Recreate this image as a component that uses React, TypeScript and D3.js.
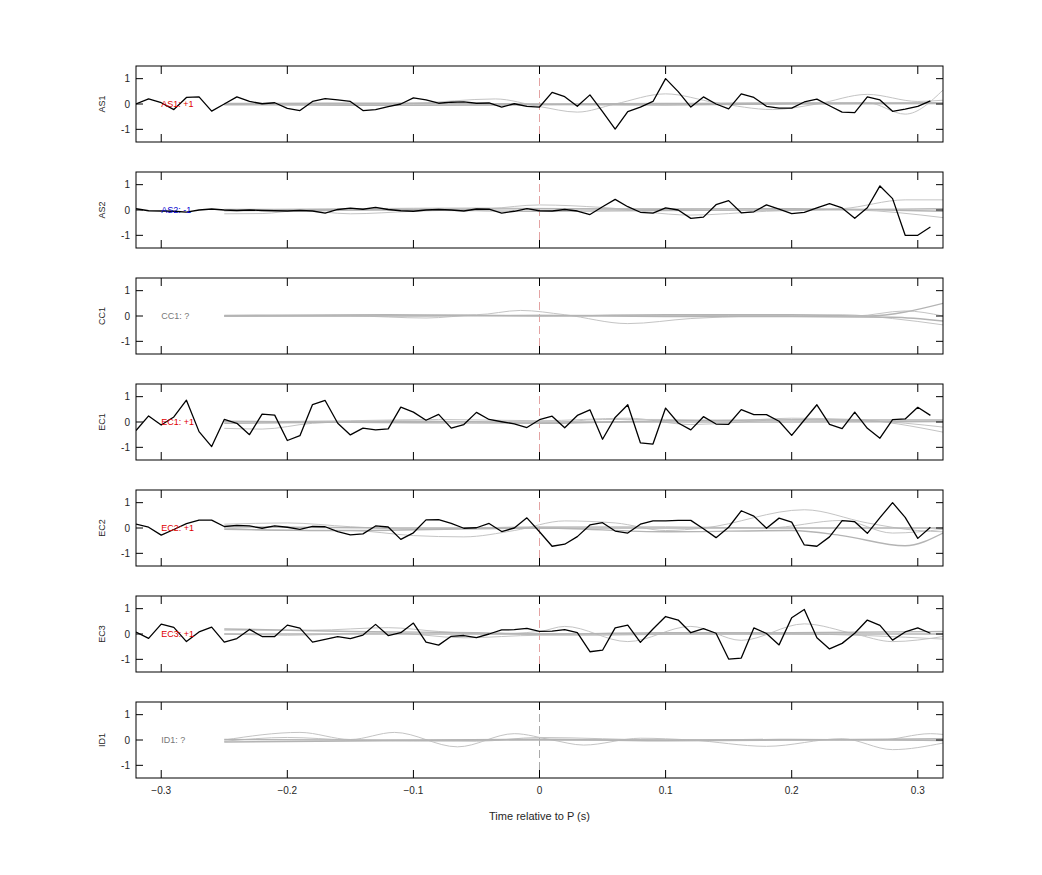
import React, { useEffect, useRef } from 'react';
import * as d3 from 'd3';

// sample times of the black traces (s)
const sampleTimes = [
  -0.32, -0.31, -0.3, -0.29, -0.28, -0.27, -0.26, -0.25, -0.24, -0.23, -0.22, -0.21, -0.2, -0.19, -0.18, -0.17,
  -0.16, -0.15, -0.14, -0.13, -0.12, -0.11, -0.1, -0.09, -0.08, -0.07, -0.06, -0.05, -0.04, -0.03, -0.02, -0.01,
  0, 0.01, 0.02, 0.03, 0.04, 0.05, 0.06, 0.07, 0.08, 0.09, 0.1, 0.11, 0.12, 0.13, 0.14, 0.15,
  0.16, 0.17, 0.18, 0.19, 0.2, 0.21, 0.22, 0.23, 0.24, 0.25, 0.26, 0.27, 0.28, 0.29, 0.3, 0.31,
];

const as1 = [
  0, 0.2, 0.05, -0.22, 0.26, 0.28, -0.28, 0, 0.28, 0.1, 0.01, 0.05, -0.17, -0.26, 0.1, 0.21,
  0.16, 0.1, -0.26, -0.22, -0.1, 0, 0.24, 0.16, 0.03, 0.07, 0.08, 0.03, 0.04, -0.12, 0.01, -0.09,
  -0.12, 0.46, 0.29, -0.09, 0.36, -0.3, -0.99, -0.3, -0.12, 0.1, 1.0, 0.49, -0.12, 0.28, 0, -0.19,
  0.4, 0.26, -0.09, -0.16, -0.16, 0.08, 0.19, -0.07, -0.32, -0.34, 0.28, 0.16, -0.29, -0.2, -0.09, 0.12,
];
const as2 = [
  0.05, -0.03, -0.04, -0.05, -0.08, 0, 0.04, 0, -0.02, 0, -0.02, -0.03, -0.04, -0.02, -0.04, -0.12,
  0.02, 0.07, 0.03, 0.1, 0.02, -0.03, -0.05, 0, 0.02, 0, -0.04, 0.04, 0.03, -0.12, -0.05, 0.05,
  -0.03, -0.04, 0.02, -0.04, -0.18, 0.13, 0.42, 0.13, -0.09, -0.12, 0.08, 0, -0.33, -0.28, 0.21, 0.37,
  -0.11, -0.07, 0.2, 0.03, -0.14, -0.09, 0.08, 0.25, 0.08, -0.33, 0.09, 0.95, 0.45, -1.0, -1.0, -0.67,
];
const ec1 = [
  -0.34, 0.24, -0.12, 0.2, 0.86, -0.38, -0.97, 0.1, -0.05, -0.5, 0.31, 0.27, -0.73, -0.54, 0.69, 0.85,
  -0.05, -0.51, -0.24, -0.31, -0.27, 0.59, 0.39, 0.07, 0.3, -0.24, -0.1, 0.38, 0.1, 0.01, -0.07, -0.22,
  0.09, 0.23, -0.23, 0.26, 0.48, -0.68, 0.18, 0.68, -0.82, -0.87, 0.55, -0.04, -0.31, 0.21, -0.08, -0.09,
  0.49, 0.29, 0.29, 0.03, -0.53, 0.08, 0.68, -0.09, -0.26, 0.39, -0.25, -0.64, 0.09, 0.12, 0.58, 0.26,
];
const ec2 = [
  0.15, 0.03, -0.28, -0.06, 0.17, 0.31, 0.31, 0.06, 0.1, 0.08, -0.01, 0.08, 0.03, -0.05, 0.06, 0.05,
  -0.14, -0.27, -0.23, 0.08, 0.04, -0.45, -0.19, 0.32, 0.33, 0.18, -0.01, 0.01, 0.18, -0.14, 0, 0.4,
  -0.15, -0.72, -0.64, -0.34, 0.12, 0.21, -0.12, -0.2, 0.15, 0.28, 0.28, 0.3, 0.3, -0.03, -0.38, 0.03,
  0.68, 0.47, -0.01, 0.39, 0.23, -0.67, -0.72, -0.35, 0.29, 0.25, -0.21, 0.41, 1.0, 0.42, -0.41, 0.03,
];
const ec3 = [
  0.08, -0.17, 0.39, 0.26, -0.3, 0.08, 0.27, -0.32, -0.18, 0.18, -0.1, -0.1, 0.35, 0.23, -0.32, -0.21,
  -0.1, -0.18, -0.04, 0.38, -0.06, 0.05, 0.43, -0.32, -0.44, -0.09, -0.06, -0.14, 0, 0.16, 0.17, 0.22,
  0.1, 0.11, 0.17, 0.05, -0.7, -0.64, 0.24, 0.35, -0.33, 0.2, 0.69, 0.55, 0.05, 0.21, 0.03, -0.99,
  -0.95, 0.24, 0.02, -0.43, 0.64, 0.97, -0.15, -0.59, -0.37, 0.03, 0.55, 0.34, -0.24, 0.08, 0.24, 0.03,
];

// gray traces: [time, value] knots
const as1Gray = [
  [[-0.25, -0.02], [-0.15, 0], [-0.1, 0.03], [-0.035, 0.2], [0, -0.1], [0.03, -0.32], [0.06, 0], [0.1, 0.4], [0.14, 0.05], [0.185, -0.22], [0.22, 0], [0.26, 0.38], [0.3, 0.1], [0.32, 0.15]],
  [[-0.25, 0], [-0.1, -0.03], [-0.03, -0.05], [0.02, -0.02], [0.1, 0], [0.2, 0.05], [0.26, 0.05], [0.29, -0.4], [0.32, 0.55]],
  [[-0.25, -0.03], [-0.1, -0.05], [0, -0.02], [0.1, -0.04], [0.2, 0], [0.32, 0.02]],
  [[-0.25, 0.02], [-0.1, 0.03], [0, 0], [0.1, 0.02], [0.2, 0.03], [0.32, 0.05]],
];
const as2Gray = [
  [[-0.25, -0.15], [-0.22, -0.14], [-0.19, -0.02], [-0.15, -0.15], [-0.1, -0.05], [-0.04, 0.05], [0, 0.2], [0.05, 0.1], [0.12, -0.2], [0.18, -0.05], [0.24, 0.05], [0.29, 0.4], [0.32, 0.4]],
  [[-0.25, 0], [-0.15, 0.05], [-0.05, 0.08], [0.05, 0.05], [0.15, 0.05], [0.25, 0], [0.32, -0.3]],
  [[-0.25, -0.03], [-0.1, 0], [0, -0.05], [0.1, -0.02], [0.2, 0], [0.32, 0.05]],
  [[-0.25, 0.02], [-0.1, 0.03], [0, 0.05], [0.1, 0.03], [0.2, 0.05], [0.32, -0.05]],
];
const cc1Gray = [
  [[-0.25, 0], [-0.15, 0.03], [-0.05, 0.05], [-0.015, 0.22], [0.02, 0.05], [0.07, -0.3], [0.12, -0.1], [0.17, 0], [0.24, 0.05], [0.28, -0.1], [0.32, -0.35]],
  [[-0.25, -0.02], [-0.15, 0], [-0.09, -0.08], [-0.05, 0.03], [0.05, 0.03], [0.15, 0.02], [0.25, 0], [0.29, 0.2], [0.32, 0]],
  [[-0.25, 0.02], [-0.12, 0.05], [0, 0], [0.1, 0.05], [0.2, 0.05], [0.26, 0], [0.32, 0.5]],
  [[-0.25, 0], [-0.1, 0], [0, 0.02], [0.1, -0.02], [0.2, -0.02], [0.28, -0.05], [0.32, -0.2]],
];
const ec1Gray = [
  [[-0.25, -0.25], [-0.22, -0.28], [-0.18, -0.05], [-0.12, 0.05], [-0.05, 0], [0, -0.05], [0.05, 0.1], [0.1, 0.1], [0.15, 0.05], [0.2, 0.15], [0.25, 0.1], [0.32, -0.4]],
  [[-0.25, 0], [-0.15, 0.05], [-0.08, 0.1], [0, 0.05], [0.07, 0.15], [0.12, -0.1], [0.2, 0.1], [0.26, 0.05], [0.32, -0.2]],
  [[-0.25, -0.05], [-0.1, 0.02], [0, 0], [0.1, 0], [0.2, 0], [0.32, 0.02]],
  [[-0.25, 0.03], [-0.1, -0.03], [0, -0.05], [0.1, 0.05], [0.2, 0.08], [0.32, 0.08]],
];
const ec2Gray = [
  [[-0.25, 0], [-0.2, -0.1], [-0.15, -0.1], [-0.1, -0.3], [-0.06, -0.35], [-0.02, -0.1], [0.02, 0.28], [0.06, 0.2], [0.1, -0.1], [0.13, 0], [0.21, 0.72], [0.26, 0.2], [0.3, -0.1], [0.32, -0.15]],
  [[-0.25, 0.15], [-0.2, 0.2], [-0.15, 0.05], [-0.1, -0.05], [0, 0.05], [0.1, 0.05], [0.18, 0], [0.24, 0.3], [0.28, -0.2], [0.32, -0.05]],
  [[-0.25, -0.05], [-0.15, -0.1], [0, 0], [0.1, -0.15], [0.2, -0.1], [0.24, -0.3], [0.29, -0.7], [0.32, -0.2]],
  [[-0.25, 0.05], [-0.1, 0], [0, 0], [0.1, 0], [0.2, 0], [0.32, 0]],
];
const ec3Gray = [
  [[-0.25, 0.15], [-0.18, 0.15], [-0.12, 0.25], [-0.08, 0.1], [-0.04, 0], [0, 0.1], [0.02, 0.3], [0.07, -0.3], [0.12, 0.3], [0.16, -0.25], [0.21, 0.4], [0.25, 0], [0.28, -0.3], [0.32, -0.1]],
  [[-0.25, 0], [-0.2, -0.05], [-0.12, 0.05], [-0.06, -0.15], [0, -0.05], [0.05, -0.05], [0.12, 0], [0.2, 0], [0.32, -0.2]],
  [[-0.25, 0.2], [-0.15, 0.1], [-0.05, 0.05], [0, 0], [0.1, 0.05], [0.2, 0.05], [0.32, 0.1]],
  [[-0.25, 0], [-0.1, 0], [0, 0], [0.1, 0], [0.2, 0], [0.32, 0]],
];
const id1Gray = [
  [[-0.25, 0], [-0.19, 0.3], [-0.15, 0.02], [-0.115, 0.3], [-0.065, -0.27], [-0.02, 0.25], [0.01, 0], [0.035, -0.2], [0.08, 0.07], [0.12, 0], [0.18, -0.25], [0.24, 0.05], [0.28, -0.38], [0.32, -0.12]],
  [[-0.25, -0.05], [-0.2, 0.1], [-0.15, 0], [-0.05, -0.05], [0, 0.1], [0.1, 0], [0.2, 0], [0.27, 0], [0.31, 0.25], [0.32, 0.22]],
  [[-0.25, 0.02], [-0.1, 0], [0, 0.03], [0.1, -0.03], [0.2, 0], [0.32, 0.05]],
  [[-0.25, -0.08], [-0.1, -0.02], [0, 0], [0.1, 0], [0.2, 0.02], [0.32, -0.02]],
];

const panelNames = ['AS1', 'AS2', 'CC1', 'EC1', 'EC2', 'EC3', 'ID1'];
const panelTags = ['AS1: +1', 'AS2: -1', 'CC1: ?', 'EC1: +1', 'EC2: +1', 'EC3: +1', 'ID1: ?'];
const tagColors = ['#e00000', '#0000d0', '#777777', '#e00000', '#e00000', '#e00000', '#777777'];
const blackSeries: (number[] | null)[] = [as1, as2, null, ec1, ec2, ec3, null];
const graySeries = [as1Gray, as2Gray, cc1Gray, ec1Gray, ec2Gray, ec3Gray, id1Gray];

const xTicks = [-0.3, -0.2, -0.1, 0, 0.1, 0.2, 0.3];
const yTicks = [-1, 0, 1];

const FONT = '"Liberation Sans", Arial, Helvetica, sans-serif';

export default function App() {
  const svgRef = useRef<SVGSVGElement>(null);

  useEffect(() => {
    if (!svgRef.current) return;
    const svg = d3.select(svgRef.current);
    svg.selectAll('*').remove();

    const left = 136;
    const right = 943;
    const top0 = 66;
    const step = 106;
    const ph = 76;

    const x = d3.scaleLinear().domain([-0.32, 0.32]).range([left, right]);

    const defs = svg.append('defs');

    panelNames.forEach((name, i) => {
      const top = top0 + i * step;
      const y = d3.scaleLinear().domain([-1.5, 1.5]).range([top + ph, top]);
      const g = svg.append('g');

      defs.append('clipPath')
        .attr('id', `clip${i}`)
        .append('rect')
        .attr('x', left)
        .attr('y', top)
        .attr('width', right - left)
        .attr('height', ph);

      const plot = g.append('g').attr('clip-path', `url(#clip${i})`);

      // zero marker
      plot.append('line')
        .attr('x1', x(0)).attr('x2', x(0))
        .attr('y1', top).attr('y2', top + ph)
        .attr('stroke', i === 6 ? '#aaaaaa' : '#e3a3a3')
        .attr('stroke-width', 1)
        .attr('stroke-dasharray', '8,4');

      // gray traces
      const smooth = d3.line<number[]>()
        .x((d) => x(d[0]))
        .y((d) => y(d[1]))
        .curve(d3.curveMonotoneX);
      graySeries[i].forEach((knots, k) => {
        plot.append('path')
          .attr('d', smooth(knots as number[][]))
          .attr('fill', 'none')
          .attr('stroke', k < 2 ? '#c4c4c4' : '#b4b4b4')
          .attr('stroke-width', k < 2 ? 1 : 1.4);
      });

      // black trace
      const vals = blackSeries[i];
      if (vals) {
        const line = d3.line<number>()
          .x((_, j) => x(sampleTimes[j]))
          .y((d) => y(d));
        plot.append('path')
          .attr('d', line(vals))
          .attr('fill', 'none')
          .attr('stroke', '#000')
          .attr('stroke-width', 1.3)
          .attr('stroke-linejoin', 'round');
      }

      // tag
      g.append('text')
        .attr('x', x(-0.3))
        .attr('y', y(0) + 3)
        .attr('font-size', 9)
        .attr('font-family', FONT)
        .attr('fill', tagColors[i])
        .text(panelTags[i]);

      // frame
      g.append('rect')
        .attr('x', left)
        .attr('y', top)
        .attr('width', right - left)
        .attr('height', ph)
        .attr('fill', 'none')
        .attr('stroke', '#000')
        .attr('stroke-width', 1);

      // x ticks inward, top and bottom
      xTicks.forEach((t) => {
        g.append('line')
          .attr('x1', x(t)).attr('x2', x(t))
          .attr('y1', top).attr('y2', top + 8)
          .attr('stroke', '#000');
        g.append('line')
          .attr('x1', x(t)).attr('x2', x(t))
          .attr('y1', top + ph).attr('y2', top + ph - 8)
          .attr('stroke', '#000');
      });

      // y ticks inward, left and right
      yTicks.forEach((v) => {
        g.append('line')
          .attr('x1', left).attr('x2', left + 7)
          .attr('y1', y(v)).attr('y2', y(v))
          .attr('stroke', '#000');
        g.append('line')
          .attr('x1', right).attr('x2', right - 7)
          .attr('y1', y(v)).attr('y2', y(v))
          .attr('stroke', '#000');
        g.append('text')
          .attr('x', left - 6)
          .attr('y', y(v) + 3.5)
          .attr('text-anchor', 'end')
          .attr('font-size', 10)
          .attr('font-family', FONT)
          .attr('fill', '#262626')
          .text(String(v));
      });

      // y label
      g.append('text')
        .attr('transform', `translate(105,${top + ph / 2}) rotate(-90)`)
        .attr('text-anchor', 'middle')
        .attr('font-size', 9)
        .attr('font-family', FONT)
        .attr('fill', '#262626')
        .text(name);

      // x tick labels on bottom panel
      if (i === panelNames.length - 1) {
        xTicks.forEach((t) => {
          g.append('text')
            .attr('x', x(t))
            .attr('y', top + ph + 16)
            .attr('text-anchor', 'middle')
            .attr('font-size', 10)
            .attr('font-family', FONT)
            .attr('fill', '#262626')
            .text(d3.format('')(t));
        });
        g.append('text')
          .attr('x', (left + right) / 2)
          .attr('y', top + ph + 42)
          .attr('text-anchor', 'middle')
          .attr('font-size', 11)
          .attr('font-family', FONT)
          .attr('fill', '#262626')
          .text('Time relative to P (s)');
      }
    });
  }, []);

  return (
    <svg
      ref={svgRef}
      width={1042}
      height={875}
      style={{ position: 'absolute', left: 0, top: 0, background: '#fff' }}
    />
  );
}
